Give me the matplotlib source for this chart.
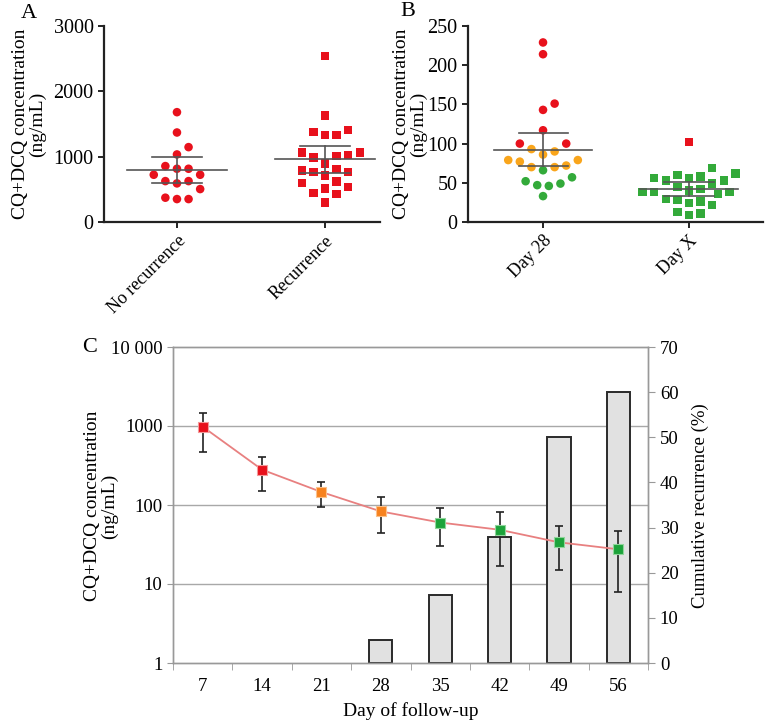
import numpy as np
import matplotlib
matplotlib.use("Agg")
import matplotlib.pyplot as plt

plt.rcParams['font.family'] = ['Liberation Serif', 'DejaVu Serif']

# Panel A - concentration by outcome (ng/mL)
no_recurrence = [1681, 1370, 1146, 1034, 856, 815, 815, 723, 723, 626, 626, 591, 504, 372, 351, 351]
recurrence = [2541, 1630, 1375, 1329, 1329, 1411, 1064, 1024, 988, 896, 1013, 1064,
              815, 769, 713, 764, 789, 621, 535, 514, 596, 443, 428, 300]
a_mean = [789, 957]
a_upper = [993, 1161]
a_lower = [591, 754]
a_labels = ['No recurrence', 'Recurrence']

# Panel B - concentration at day 28 and day X
day28_red = [229, 214, 151, 143, 117, 100, 100]
day28_orange = [90, 86, 93, 79, 77, 79, 70, 70, 72]
day28_green = [66, 52, 47, 49, 57, 46, 33]
dayx_red = [102]
dayx_green = [60, 56, 53, 49, 53, 56, 58, 62, 69, 38, 36, 42, 40, 38, 38,
              28, 26, 29, 24, 22, 13, 9, 11, 45]
b_mean = [92, 42.4]
b_upper = [114, 51]
b_lower = [71, 33]
b_labels = ['Day 28', 'Day X']

# Panel C - follow-up
days = [7, 14, 21, 28, 35, 42, 49, 56]
conc_mean = [980, 280, 146, 83, 60, 48.6, 33.7, 27.5]
conc_upper = [1472, 408, 193, 125, 92, 82, 53.7, 47]
conc_lower = [473, 151, 95, 44, 30.5, 17, 15, 8.0]
conc_level = ['red', 'red', 'orange', 'orange', 'green', 'green', 'green', 'green']
cum_recurrence = [0, 0, 0, 5, 15, 28, 50, 60]

W, H = 765, 722
RED = '#e8111c'
ORANGE_B = '#f9a51b'
GREEN = '#33aa3a'
C_COLORS = {'red': '#e8111c', 'orange': '#f7821e', 'green': '#1ca33a'}
C_EDGES = {'red': '#f39a9a', 'orange': '#fbc08a', 'green': '#8fd59a'}


def px_rect(l, t, r, b):
    return [l / W, 1 - b / H, (r - l) / W, (b - t) / H]


def swarm(ax, x0, values, diam=11.6, step=5.8):
    # greedy beeswarm in pixel space, returns x positions in data units
    pts = np.array([ax.transData.transform((x0, v)) for v in values])
    xscale = ax.transData.transform((1, 0))[0] - ax.transData.transform((0, 0))[0]
    order = np.argsort(values)
    placed = []
    xs = np.zeros(len(values))
    for i in order:
        py = pts[i, 1]
        k = 0
        while True:
            for sgn in ([0] if k == 0 else [1, -1]):
                off = sgn * k * step
                ok = all(np.hypot(off - qx, py - qy) >= diam for qx, qy in placed)
                if ok:
                    break
            if ok:
                break
            k += 1
        placed.append((off, py))
        xs[i] = x0 + off / xscale
    return xs


def mean_bars(ax, mean, upper, lower, half=0.335, cap=0.168):
    for i in range(len(mean)):
        ax.plot([i - half, i + half], [mean[i]] * 2, color='#555555', lw=1.2, zorder=4)
        ax.plot([i - cap, i + cap], [upper[i]] * 2, color='#555555', lw=1.2, zorder=4)
        ax.plot([i - cap, i + cap], [lower[i]] * 2, color='#555555', lw=1.2, zorder=4)
        ax.plot([i, i], [lower[i], upper[i]], color='#555555', lw=1.2, zorder=4)


def style_dot_axes(ax, labels):
    for s in ['top', 'right']:
        ax.spines[s].set_visible(False)
    for s in ['left', 'bottom']:
        ax.spines[s].set_linewidth(1.6)
        ax.spines[s].set_color('#222222')
    ax.tick_params(width=1.4, length=4, color='#222222', labelsize=14.5)
    ax.set_xticks([0, 1])
    ax.set_xticklabels(labels, rotation=45, ha='right', rotation_mode='anchor', fontsize=13)
    ax.set_ylabel('CQ+DCQ concentration\n(ng/mL)', fontsize=14, linespacing=1.0)


fig = plt.figure(figsize=(W / 100, H / 100), dpi=100)

# ---- A ----
axA = fig.add_axes(px_rect(104, 26, 380, 222))
axA.set_xlim(-0.493, 1.372)
axA.set_ylim(0, 3000)
axA.set_yticks([0, 1000, 2000, 3000])
style_dot_axes(axA, a_labels)
axA.yaxis.set_label_coords(46 / W, 1 - 124 / H, transform=fig.transFigure)
xa = swarm(axA, 0, no_recurrence)
axA.scatter(xa, no_recurrence, s=38, marker='o', color=RED, edgecolors='none', zorder=3)
xr = swarm(axA, 1, recurrence)
axA.scatter(xr, recurrence, s=36, marker='s', color=RED, edgecolors='none', zorder=3)
mean_bars(axA, a_mean, a_upper, a_lower)
fig.text(29 / W, 1 - 13 / H, 'A', fontsize=16, ha='center', va='center')

# ---- B ----
axB = fig.add_axes(px_rect(468, 26, 763, 222))
axB.set_xlim(-0.514, 1.507)
axB.set_ylim(0, 250)
axB.set_yticks([0, 50, 100, 150, 200, 250])
style_dot_axes(axB, b_labels)
axB.yaxis.set_label_coords(427 / W, 1 - 124 / H, transform=fig.transFigure)
d28 = day28_red + day28_orange + day28_green
d28_col = [RED] * len(day28_red) + [ORANGE_B] * len(day28_orange) + [GREEN] * len(day28_green)
x28 = swarm(axB, 0, d28)
axB.scatter(x28, d28, s=38, marker='o', c=d28_col, edgecolors='none', zorder=3)
dx = dayx_red + dayx_green
dx_col = [RED] * len(dayx_red) + [GREEN] * len(dayx_green)
xx = swarm(axB, 1, dx)
axB.scatter(xx, dx, s=36, marker='s', c=dx_col, edgecolors='none', zorder=3)
mean_bars(axB, b_mean, b_upper, b_lower)
fig.text(408 / W, 1 - 12 / H, 'B', fontsize=16, ha='center', va='center')

# ---- C ----
axC = fig.add_axes(px_rect(173, 347, 648, 663))
axR = axC.twinx()
axC.set_zorder(axR.get_zorder() + 1)
axC.patch.set_visible(False)

pos = np.arange(len(days))
bar_pos = [p for p, v in zip(pos, cum_recurrence) if v > 0]
bar_val = [v for v in cum_recurrence if v > 0]
axR.bar(bar_pos, bar_val, width=0.39, color='#e1e1e1', edgecolor='#2a2a2a', linewidth=1.4, zorder=2)
axR.set_ylim(0, 70)
axR.set_yticks(range(0, 71, 10))
axR.set_yticks(np.linspace(0, 70, 5), minor=True)
axR.grid(which='minor', axis='y', color='#a8a8a8', lw=1.0)
axR.set_axisbelow(True)
axR.tick_params(axis='y', which='major', direction='out', length=5, color='#999999', labelsize=13.5)
axR.tick_params(axis='y', which='minor', length=0)
axR.set_ylabel('Cumulative recurrence (%)', fontsize=13.5)
axR.yaxis.set_label_coords(692 / W, 1 - 506 / H, transform=fig.transFigure)

axC.set_yscale('log')
axC.set_ylim(1, 10000)
axC.set_xlim(-0.5, len(days) - 0.5)
axC.set_yticks([1, 10, 100, 1000, 10000])
axC.set_yticklabels(['1', '10', '100', '1000', '10 000'])
axC.yaxis.set_minor_locator(matplotlib.ticker.NullLocator())
axC.tick_params(axis='y', direction='out', length=4, color='#999999', labelsize=13.5)
axC.set_xticks(pos)
axC.set_xticklabels([str(d) for d in days])
axC.set_xticks(np.arange(-0.5, len(days), 1), minor=True)
axC.tick_params(axis='x', which='major', length=0, labelsize=13.5, pad=11)
axC.tick_params(axis='x', which='minor', direction='out', length=5, color='#999999')
for ax in (axC, axR):
    for s in ax.spines.values():
        s.set_color('#999999')
        s.set_linewidth(1.0)

axC.plot(pos, conc_mean, color='#e88080', lw=1.3, zorder=3)
yerr = [np.array(conc_mean) - np.array(conc_lower), np.array(conc_upper) - np.array(conc_mean)]
axC.errorbar(pos, conc_mean, yerr=yerr, fmt='none', ecolor='#222222', elinewidth=1.2,
             capsize=3, capthick=1.2, zorder=4)
axC.scatter(pos, conc_mean, marker='s', s=52,
            c=[C_COLORS[c] for c in conc_level],
            edgecolors=[C_EDGES[c] for c in conc_level], linewidths=0.8, zorder=5)
axC.set_xlabel('Day of follow-up', fontsize=14, labelpad=5)
axC.set_ylabel('CQ+DCQ concentration\n(ng/mL)', fontsize=14, linespacing=1.0)
axC.yaxis.set_label_coords(118 / W, 1 - 506 / H, transform=fig.transFigure)
fig.text(90 / W, 1 - 347 / H, 'C', fontsize=16, ha='center', va='center')

fig.savefig('out.png', dpi=100, facecolor='white')
